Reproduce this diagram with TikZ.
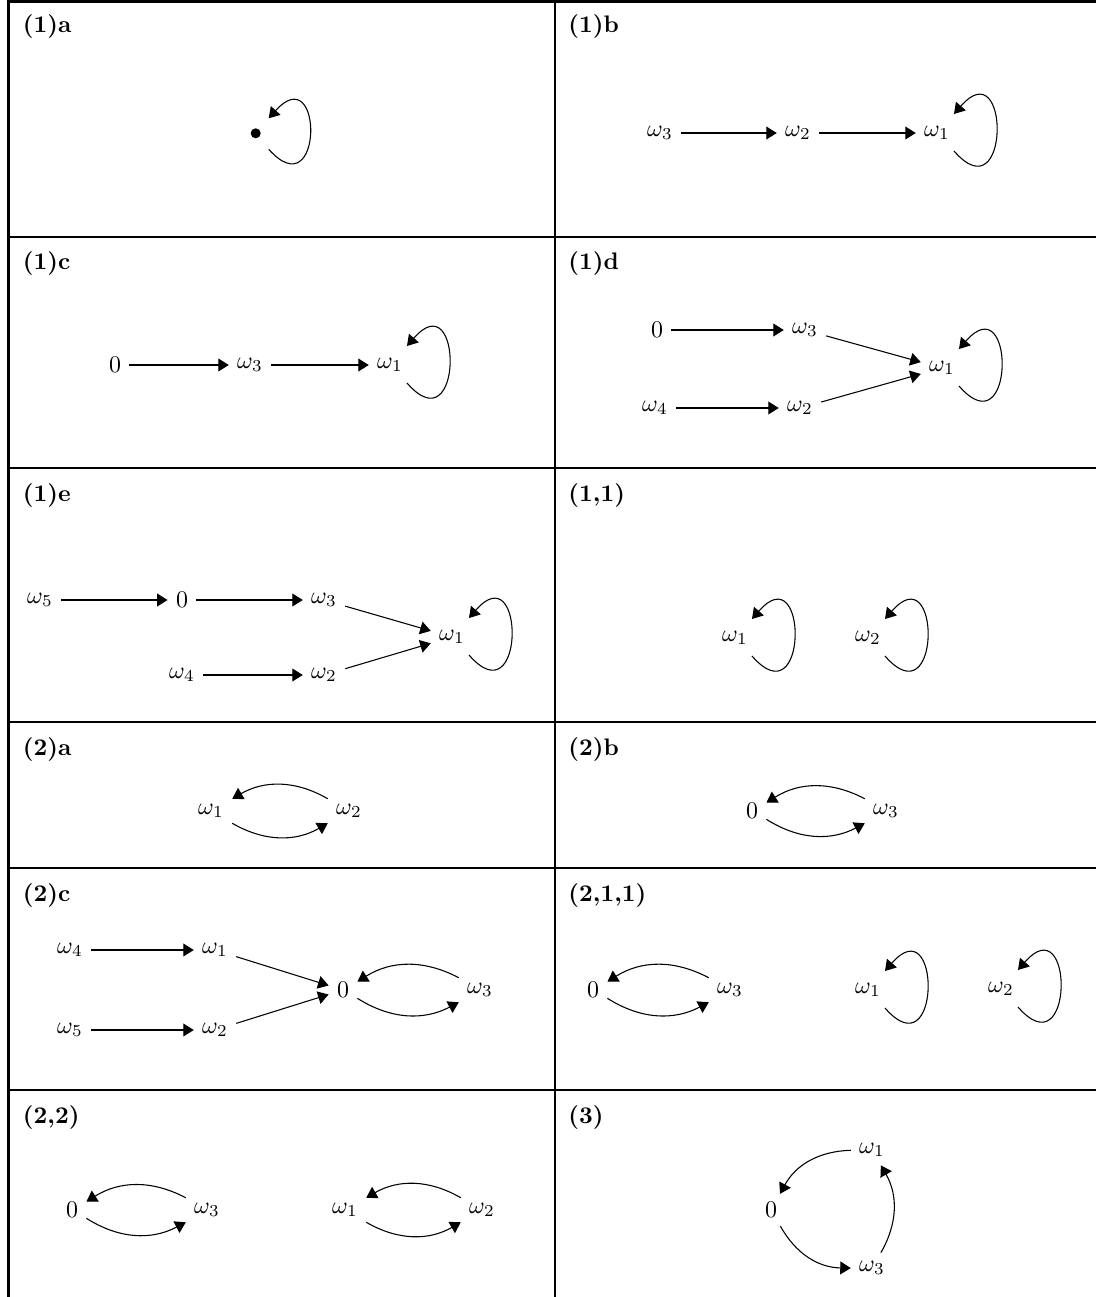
\documentclass[tikz,border=0pt]{standalone}
\usetikzlibrary{arrows.meta}
\newcommand\myloop[1]{\draw[arr] ([shift={(17,-18)}]#1.center) .. controls +(-49:86) and +(49:86) .. ([shift={(17,19)}]#1.center);}
\begin{document}
\begin{tikzpicture}[x=0.4184pt,y=0.4184pt,
  arr/.style={-{Triangle[length=4.4pt,width=5.4pt]}, line width=0.45pt},
  tbl/.style={line width=1.15pt},
  lab/.style={anchor=base west, inner sep=0pt, font=\bfseries},
  v/.style={inner sep=3.33pt}]
\useasboundingbox (0,0) rectangle (1096,-1297);
% table rules
\draw[tbl] (7,-1.5) -- (1096,-1.5);
\draw[tbl] (8.5,0) -- (8.5,-1297);
\draw[tbl] (555,0) -- (555,-1297);
\foreach \yy in {237,468,722,868,1090} \draw[tbl] (8.5,-\yy) -- (1096,-\yy);
% labels
\node[lab] (L1) at (22.5,-33) {(1)a};
\node[lab] (L2) at (568,-33) {(1)b};
\node[lab] (L3) at (22.5,-270) {(1)c};
\node[lab] (L4) at (568,-270) {(1)d};
\node[lab] (L5) at (22.5,-501) {(1)e};
\node[lab] (L6) at (568,-501) {(1,1)};
\node[lab] (L7) at (22.5,-755) {(2)a};
\node[lab] (L8) at (568,-755) {(2)b};
\node[lab] (L9) at (22.5,-901) {(2)c};
\node[lab] (L10) at (568,-901) {(2,1,1)};
\node[lab] (L11) at (22.5,-1123) {(2,2)};
\node[lab] (L12) at (568,-1123) {(3)};
% (1)a
\node[circle,fill,inner sep=0pt,minimum size=4.2pt] (adot) at (255.7,-133.3) {};
\draw[arr] ([shift={(13,-16)}]adot.center) .. controls +(-48:82) and +(48:82) .. ([shift={(13,15)}]adot.center);
% (1)b
\node[v] (b3) at (660,-133) {$\omega_3$};
\node[v] (b2) at (798,-133) {$\omega_2$};
\node[v] (b1) at (937,-133) {$\omega_1$};
\draw[arr] (b3) -- (b2);
\draw[arr] (b2) -- (b1);
\myloop{b1}
% (1)c
\node[v] (c0) at (115,-365) {$0$};
\node[v] (c3) at (250,-365) {$\omega_3$};
\node[v] (c1) at (390,-365) {$\omega_1$};
\draw[arr] (c0) -- (c3);
\draw[arr] (c3) -- (c1);
\myloop{c1}
% (1)d
\node[v] (d0) at (657,-330) {$0$};
\node[v] (d3) at (805,-330) {$\omega_3$};
\node[v] (d4) at (655,-408) {$\omega_4$};
\node[v] (d2) at (800,-408) {$\omega_2$};
\node[v] (d1) at (942,-368) {$\omega_1$};
\draw[arr] (d0) -- (d3);
\draw[arr] (d4) -- (d2);
\draw[arr] (d3) -- (d1);
\draw[arr] (d2) -- (d1);
\myloop{d1}
% (1)e
\node[v] (e5) at (40,-600) {$\omega_5$};
\node[v] (e0) at (182,-600) {$0$};
\node[v] (e3) at (324,-600) {$\omega_3$};
\node[v] (e4) at (182,-675) {$\omega_4$};
\node[v] (e2) at (324,-675) {$\omega_2$};
\node[v] (e1) at (452,-637) {$\omega_1$};
\draw[arr] (e5) -- (e0);
\draw[arr] (e0) -- (e3);
\draw[arr] (e4) -- (e2);
\draw[arr] (e3) -- (e1);
\draw[arr] (e2) -- (e1);
\myloop{e1}
% (1,1)
\node[v] (f1) at (735,-638) {$\omega_1$};
\node[v] (f2) at (868,-638) {$\omega_2$};
\myloop{f1}
\myloop{f2}
% (2)a
\node[v] (g1) at (211,-811) {$\omega_1$};
\node[v] (g2) at (349,-811) {$\omega_2$};
\draw[arr] (g2) to[bend right] (g1);
\draw[arr] (g1) to[bend right] (g2);
% (2)b
\node[v] (h0) at (752,-811) {$0$};
\node[v] (h3) at (886,-811) {$\omega_3$};
\draw[arr] (h3) to[bend right] (h0);
\draw[arr] (h0) to[bend right] (h3);
% (2)c
\node[v] (i4) at (70,-950) {$\omega_4$};
\node[v] (i1) at (215,-950) {$\omega_1$};
\node[v] (i5) at (70,-1030) {$\omega_5$};
\node[v] (i2) at (215,-1030) {$\omega_2$};
\node[v] (i0) at (343,-990) {$0$};
\node[v] (i3) at (480,-990) {$\omega_3$};
\draw[arr] (i4) -- (i1);
\draw[arr] (i5) -- (i2);
\draw[arr] (i1) -- (i0);
\draw[arr] (i2) -- (i0);
\draw[arr] (i3) to[bend right] (i0);
\draw[arr] (i0) to[bend right] (i3);
% (2,1,1)
\node[v] (j0) at (593,-990) {$0$};
\node[v] (j3) at (730,-990) {$\omega_3$};
\node[v] (j1) at (868,-990) {$\omega_1$};
\node[v] (j2) at (1001,-989) {$\omega_2$};
\draw[arr] (j3) to[bend right] (j0);
\draw[arr] (j0) to[bend right] (j3);
\myloop{j1}
\myloop{j2}
% (2,2)
\node[v] (k0) at (72,-1210) {$0$};
\node[v] (k3) at (207,-1210) {$\omega_3$};
\node[v] (k1) at (345,-1210) {$\omega_1$};
\node[v] (k2) at (482,-1210) {$\omega_2$};
\draw[arr] (k3) to[bend right] (k0);
\draw[arr] (k0) to[bend right] (k3);
\draw[arr] (k2) to[bend right] (k1);
\draw[arr] (k1) to[bend right] (k2);
% (3)
\node[v] (l1) at (872,-1150) {$\omega_1$};
\node[v] (l0) at (771,-1210) {$0$};
\node[v] (l3) at (872,-1268) {$\omega_3$};
\draw[arr] (l1) to[bend right] (l0);
\draw[arr] (l0) to[bend right] (l3);
\draw[arr] (l3) to[bend right] (l1);
\end{tikzpicture}
\end{document}
